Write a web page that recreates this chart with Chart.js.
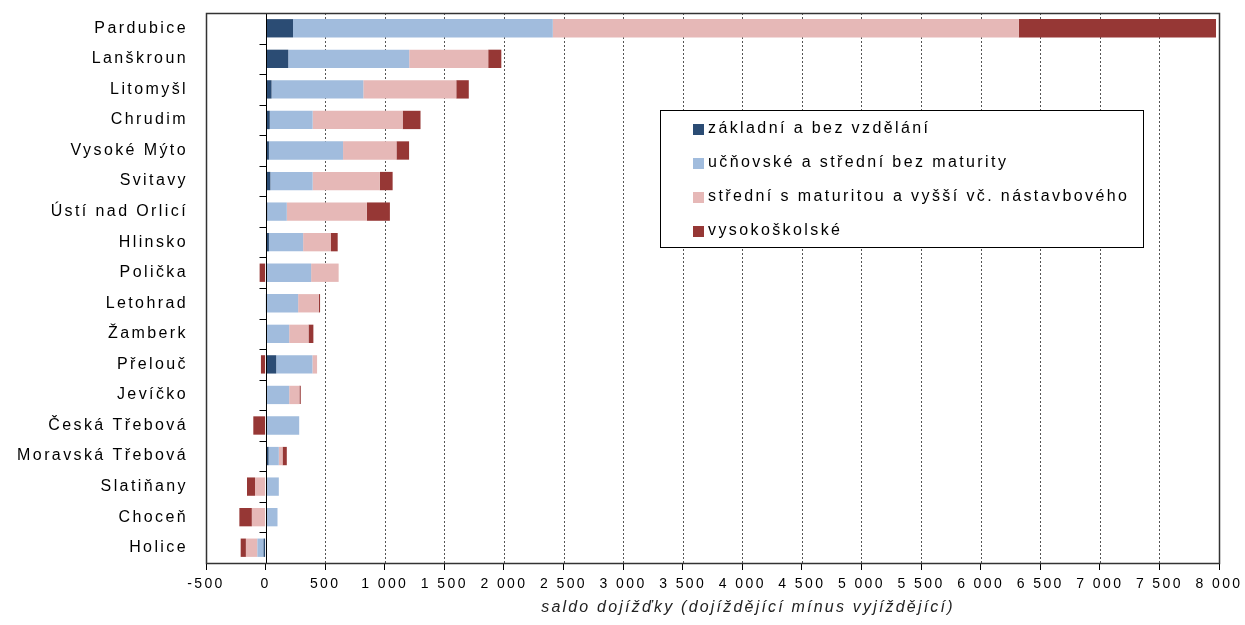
<!DOCTYPE html>
<html>

<head>
    <meta charset="UTF-8">
    <title>Saldo dojížďky podle vzdělání</title>
    <script src="https://cdn.jsdelivr.net/npm/chart.js@4.4.1/dist/chart.umd.min.js"></script>
    <style>
        body { margin: 0; background: #fff; }
        #obal { width: 1245px; height: 625px; }
    </style>
</head>

<body>
    <div id="obal"><canvas id="graf"></canvas></div>
</body>

<script>
    var mesta = ['Pardubice', 'Lanškroun', 'Litomyšl', 'Chrudim', 'Vysoké Mýto', 'Svitavy', 'Ústí nad Orlicí',
        'Hlinsko', 'Polička', 'Letohrad', 'Žamberk', 'Přelouč', 'Jevíčko', 'Česká Třebová', 'Moravská Třebová',
        'Slatiňany', 'Choceň', 'Holice'];

    var zakladni = [230, 190, 50, 35, 28, 40, 14, 28, 10, 3, 11, 89, 11, 0, 25, 0, 0, -17];
    var ucnovske = [2180, 1015, 770, 360, 622, 355, 164, 287, 372, 270, 187, 304, 187, 282, 86, 111, 100, -52];
    var stredni = [3910, 663, 780, 755, 448, 563, 672, 234, 231, 173, 162, 39, 86, 0, 31, -89, -115, -96];
    var vysokoskolske = [1655, 110, 105, 150, 106, 108, 193, 56, -50, 11, 41, -39, 11, -103, 36, -67, -105, -44];

    var osaMin = -500;
    var osaMax = 8000;
    var osaKrok = 500;
    var nazevOsy = 'saldo dojížďky (dojíždějící mínus vyjíždějící)';

    var pismo = "'Liberation Sans', Arial, sans-serif";

    function formatCislo(v) {
        var s = String(Math.abs(v));
        if (s.length > 3) s = s.slice(0, s.length - 3) + ' ' + s.slice(s.length - 3);
        return (v < 0 ? '-' : '') + s;
    }

    // mrizka, nulova osa, ramecek, nazev osy a legenda uvnitr grafu
    var kresba = {
        id: 'kresba',
        beforeDraw: function (chart) {
            chart.ctx.letterSpacing = '2.4px';
        },
        beforeDatasetsDraw: function (chart) {
            var ctx = chart.ctx, a = chart.chartArea, x = chart.scales.x;
            ctx.save();
            ctx.strokeStyle = '#555';
            ctx.lineWidth = 1;
            ctx.setLineDash([2, 2]);
            x.ticks.forEach(function (t) {
                if (t.value === 0 || t.value === x.min || t.value === x.max) return;
                var px = Math.round(x.getPixelForValue(t.value)) + 0.5;
                ctx.beginPath();
                ctx.moveTo(px, a.top);
                ctx.lineTo(px, a.bottom);
                ctx.stroke();
            });
            ctx.restore();
        },
        afterDatasetsDraw: function (chart) {
            var ctx = chart.ctx, a = chart.chartArea, x = chart.scales.x;
            var nula = Math.round(x.getPixelForValue(0)) + 0.5;
            var krok = a.height / mesta.length;
            ctx.save();
            ctx.strokeStyle = '#000';
            ctx.lineWidth = 1;
            ctx.beginPath();
            ctx.moveTo(nula, a.top);
            ctx.lineTo(nula, a.bottom);
            for (var i = 1; i < mesta.length; i++) {
                var py = Math.round(a.top + i * krok) + 0.5;
                ctx.moveTo(nula - 7, py);
                ctx.lineTo(nula, py);
            }
            ctx.stroke();
            ctx.strokeStyle = '#333';
            ctx.lineWidth = 1.5;
            ctx.strokeRect(Math.round(a.left) + 0.5, Math.round(a.top) + 0.5,
                Math.round(a.right - a.left), Math.round(a.bottom - a.top));
            ctx.restore();
            // popisky osy x se kresli az po datech, s uzsim prolozenim
            ctx.letterSpacing = '1px';
        },
        afterDraw: function (chart) {
            var ctx = chart.ctx, a = chart.chartArea;
            ctx.save();
            ctx.letterSpacing = '2.2px';
            ctx.font = 'italic 16px ' + pismo;
            ctx.fillStyle = '#222';
            ctx.textAlign = 'center';
            ctx.textBaseline = 'middle';
            ctx.fillText(nazevOsy, a.left + (a.right - a.left) * 0.535, 608);

            ctx.letterSpacing = '2.4px';
            var box = { x: 660, y: 110, w: 483, h: 137 };
            ctx.fillStyle = '#fff';
            ctx.fillRect(box.x, box.y, box.w, box.h);
            ctx.strokeStyle = '#000';
            ctx.lineWidth = 1;
            ctx.strokeRect(box.x + 0.5, box.y + 0.5, box.w, box.h);
            ctx.font = '16px ' + pismo;
            ctx.textAlign = 'left';
            chart.data.datasets.forEach(function (ds, i) {
                var cy = box.y + 19 + i * 34;
                ctx.fillStyle = ds.backgroundColor;
                ctx.fillRect(box.x + 33, cy - 5, 11, 11);
                ctx.fillStyle = '#000';
                ctx.fillText(ds.label, box.x + 48, cy);
            });
            ctx.restore();
        }
    };

    var graf = new Chart(document.getElementById('graf'), {
        type: 'bar',
        data: {
            labels: mesta,
            datasets: [{
                label: 'základní a bez vzdělání',
                data: zakladni,
                backgroundColor: '#2B4C74'
            }, {
                label: 'učňovské a střední bez maturity',
                data: ucnovske,
                backgroundColor: '#A1BCDD'
            }, {
                label: 'střední s maturitou a vyšší vč. nástavbového',
                data: stredni,
                backgroundColor: '#E6B8B7'
            }, {
                label: 'vysokoškolské',
                data: vysokoskolske,
                backgroundColor: '#963735'
            }]
        },
        options: {
            indexAxis: 'y',
            responsive: true,
            maintainAspectRatio: false,
            animation: false,
            layout: { padding: { left: 0, right: 26, top: 13, bottom: 0 } },
            datasets: {
                bar: { barPercentage: 0.6, categoryPercentage: 1, borderWidth: 0 }
            },
            plugins: {
                legend: { display: false },
                tooltip: { enabled: false }
            },
            scales: {
                x: {
                    stacked: true,
                    z: 1,
                    min: osaMin,
                    max: osaMax,
                    grid: { drawOnChartArea: false, drawTicks: true, tickLength: 7, color: '#000' },
                    border: { display: false },
                    ticks: {
                        stepSize: osaKrok,
                        autoSkip: false,
                        maxRotation: 0,
                        padding: 6,
                        color: '#000',
                        font: { family: pismo, size: 14 },
                        callback: function (v) { return formatCislo(v); }
                    },
                    afterFit: function (s) { s.height = 62; }
                },
                y: {
                    stacked: true,
                    grid: { display: false },
                    border: { display: false },
                    ticks: {
                        padding: 10,
                        color: '#000',
                        font: { family: pismo, size: 16 }
                    },
                    afterFit: function (s) {
                        s.width = 206;
                        s.paddingTop = 0;
                        s.paddingBottom = 0;
                    }
                }
            }
        },
        plugins: [kresba]
    });
</script>

</html>
